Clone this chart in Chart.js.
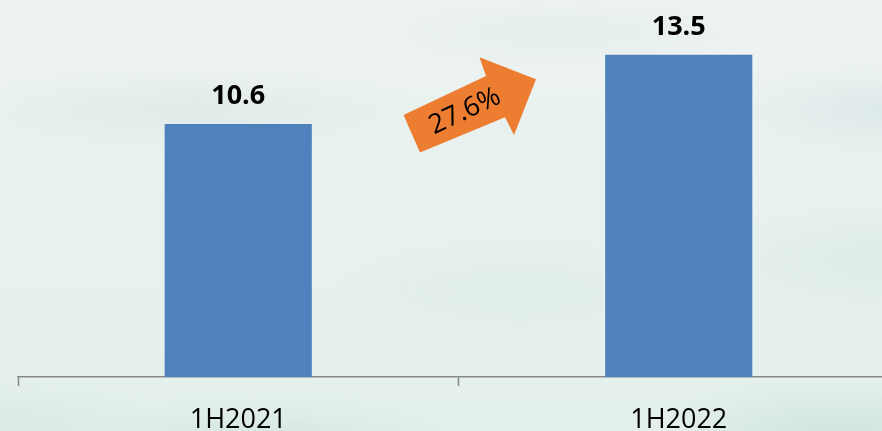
<!DOCTYPE html>
<html>
<head>
<meta charset="utf-8">
<script src="https://cdn.jsdelivr.net/npm/chart.js@4.4.1/dist/chart.umd.min.js"></script>
<style>
  html, body { margin: 0; padding: 0; width: 882px; height: 431px; overflow: hidden; }
  body { position: relative; background: linear-gradient(#edf3f2 0%, #e8f1ee 45%, #e4f0eb 100%); }
  /* misty hills behind the chart */
  #hills {
    position: absolute; left: -40px; top: -40px; width: 962px; height: 511px;
    filter: blur(9px);
    background:
      radial-gradient(ellipse 300px 45px at 230px 150px, rgba(212,224,220,0.45), transparent 75%),
      radial-gradient(ellipse 240px 40px at 600px 70px, rgba(218,230,230,0.4), transparent 75%),
      radial-gradient(ellipse 200px 50px at 930px 150px, rgba(205,222,225,0.5), transparent 75%),
      radial-gradient(ellipse 260px 70px at 950px 300px, rgba(208,228,223,0.45), transparent 75%),
      radial-gradient(ellipse 240px 60px at 560px 330px, rgba(214,232,226,0.35), transparent 75%),
      radial-gradient(ellipse 260px 55px at 300px 485px, rgba(200,225,213,0.7), transparent 75%),
      radial-gradient(ellipse 240px 70px at 880px 475px, rgba(196,223,213,0.7), transparent 75%),
      radial-gradient(ellipse 180px 45px at 60px 465px, rgba(205,227,217,0.5), transparent 75%);
  }
  #wrap { position: absolute; left: 0; top: 0; width: 900px; height: 431px; }
</style>
</head>
<body>
<div id="hills"></div>
<div id="wrap"><canvas id="chart"></canvas></div>
<script>
const periods = ['1H2021', '1H2022'];
const values = [10.6, 13.5];
const growthLabel = '27.6%';

const FONT = '"Open Sans", "Noto Sans", sans-serif';
const BAR_BLUE = '#4F81BD';
const ARROW_ORANGE = '#ED7D31';
const AXIS_GREY = '#878787';

// bold value above each bar
const valueLabels = {
  id: 'valueLabels',
  afterDatasetsDraw(chart) {
    const ctx = chart.ctx;
    const meta = chart.getDatasetMeta(0);
    ctx.save();
    ctx.font = `bold 27px ${FONT}`;
    ctx.fillStyle = '#000';
    ctx.textAlign = 'center';
    ctx.textBaseline = 'alphabetic';
    meta.data.forEach((bar, i) => {
      ctx.fillText(values[i].toFixed(1), bar.x, bar.y - 20);
    });
    ctx.restore();
  },
};

// orange growth arrow sitting between the two bars
const growthArrow = {
  id: 'growthArrow',
  afterDatasetsDraw(chart) {
    const ctx = chart.ctx;
    const x = chart.scales.x;
    const y = chart.scales.y;
    const cx = (x.getPixelForValue(0) + x.getPixelForValue(1)) / 2;
    const cy = y.getPixelForValue(11.4);
    const pts = [
      [-55, 10], [27.5, -29], [21, -47.7], [77.5, -25.7],
      [55.5, 30], [46.5, 12.3], [-38.5, 47.7],
    ];
    ctx.save();
    ctx.beginPath();
    pts.forEach(([dx, dy], i) => {
      if (i === 0) ctx.moveTo(cx + dx, cy + dy);
      else ctx.lineTo(cx + dx, cy + dy);
    });
    ctx.closePath();
    ctx.fillStyle = ARROW_ORANGE;
    ctx.fill();

    ctx.translate(cx + 6.5, cy + 6.5);
    ctx.rotate(-25 * Math.PI / 180);
    ctx.font = `27px ${FONT}`;
    ctx.fillStyle = '#000';
    ctx.textAlign = 'center';
    ctx.textBaseline = 'middle';
    ctx.fillText(growthLabel, 0, 0);
    ctx.restore();
  },
};

new Chart(document.getElementById('chart'), {
  type: 'bar',
  data: {
    labels: periods,
    datasets: [{
      data: values,
      backgroundColor: BAR_BLUE,
      borderWidth: 0,
      categoryPercentage: 1,
      barPercentage: 0.334,
    }],
  },
  options: {
    responsive: true,
    maintainAspectRatio: false,
    animation: false,
    events: [],
    layout: { padding: { left: 18, right: 1, top: 19, bottom: 0 } },
    plugins: {
      legend: { display: false },
      tooltip: { enabled: false },
    },
    scales: {
      y: {
        display: false,
        min: 0,
        max: 15,
      },
      x: {
        afterFit(scale) { scale.height = 54; },
        border: { display: true, color: AXIS_GREY, width: 1.5 },
        grid: {
          display: true,
          drawOnChartArea: false,
          drawTicks: true,
          tickLength: 9,
          tickWidth: 1.5,
          tickColor: AXIS_GREY,
          offset: true,
        },
        ticks: {
          color: '#000',
          padding: 18,
          font: { family: FONT, size: 27 },
        },
      },
    },
  },
  plugins: [valueLabels, growthArrow],
});
</script>
</body>
</html>
